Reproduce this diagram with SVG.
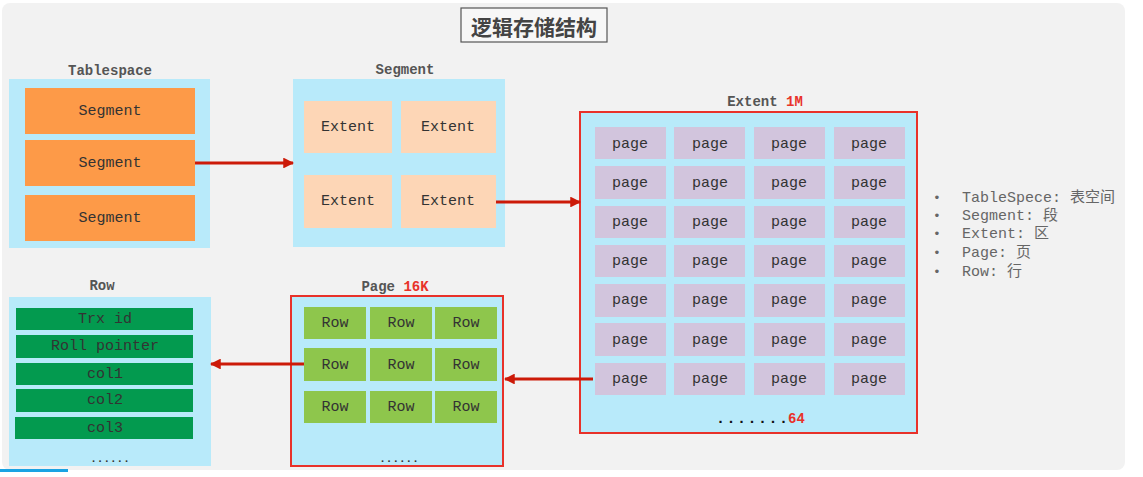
<svg xmlns="http://www.w3.org/2000/svg" width="1143" height="477" viewBox="0 0 1143 477">
<defs>
<style>
.panel{fill:#f2f2f2}
.cont{fill:#b8eafa}
.red{stroke:#e8322a;stroke-width:2}
.seg{fill:#fd9a48}
.ext{fill:#fdd6b6}
.pg{fill:#d2c5dd}
.row{fill:#8ec64c}
.col{fill:#039a4f}
.t{font-family:"Liberation Mono",monospace;font-size:15px;fill:#333;text-anchor:middle;dominant-baseline:central}
.lbl{font-family:"Liberation Mono",monospace;font-size:14px;font-weight:bold;fill:#555;text-anchor:middle}
.rd{fill:#e8322a;font-weight:bold}
.leg{font-family:"Liberation Mono","Noto Sans CJK SC",monospace;font-size:15px;fill:#666}
.conn{stroke:#cc1a08;stroke-width:3;fill:none;marker-end:url(#ah)}
</style>
<marker id="ah" viewBox="0 0 10 10" refX="9" refY="5" markerWidth="3.6" markerHeight="3.6" orient="auto" markerUnits="strokeWidth">
<path d="M0,0 L10,5 L0,10 z" fill="#cc1a08"/>
</marker>
</defs>
<rect x="0" y="0" width="1143" height="477" fill="#ffffff"/>
<rect class="panel" x="2" y="3" width="1123" height="467" rx="8"/>

<g id="title">
<rect x="461" y="8" width="146" height="34" fill="#f7f7f7" stroke="#555" stroke-width="1.2"/>
<text x="534" y="26" font-family="'Noto Sans CJK SC',sans-serif" font-size="21" font-weight="bold" fill="#444" text-anchor="middle" dominant-baseline="central">逻辑存储结构</text>
</g>

<g id="tablespace">
<text class="lbl" x="110" y="75">Tablespace</text>
<rect class="cont" x="9" y="79" width="201" height="169"/>
<rect class="seg" x="25" y="88" width="170" height="46"/>
<text class="t" x="110" y="111">Segment</text>
<rect class="seg" x="25" y="140" width="170" height="46"/>
<text class="t" x="110" y="163">Segment</text>
<rect class="seg" x="25" y="195" width="170" height="46"/>
<text class="t" x="110" y="218">Segment</text>
</g>

<g id="segment">
<text class="lbl" x="405" y="74">Segment</text>
<rect class="cont" x="293" y="79" width="212" height="168"/>
<rect class="ext" x="304" y="101" width="88" height="52"/>
<text class="t" x="348" y="127">Extent</text>
<rect class="ext" x="401" y="101" width="95" height="52"/>
<text class="t" x="448" y="127">Extent</text>
<rect class="ext" x="304" y="175" width="88" height="53"/>
<text class="t" x="348" y="201">Extent</text>
<rect class="ext" x="401" y="175" width="95" height="53"/>
<text class="t" x="448" y="201">Extent</text>
</g>

<g id="extent">
<text class="lbl" x="765" y="106">Extent <tspan class="rd">1M</tspan></text>
<rect class="cont red" x="580" y="112" width="337" height="321"/>
<g id="pages">
<rect class="pg" x="595" y="127" width="71" height="32"/><rect class="pg" x="674" y="127" width="71" height="32"/><rect class="pg" x="754" y="127" width="71" height="32"/><rect class="pg" x="834" y="127" width="71" height="32"/>
<rect class="pg" x="595" y="166" width="71" height="33"/><rect class="pg" x="674" y="166" width="71" height="33"/><rect class="pg" x="754" y="166" width="71" height="33"/><rect class="pg" x="834" y="166" width="71" height="33"/>
<rect class="pg" x="595" y="206" width="71" height="32"/><rect class="pg" x="674" y="206" width="71" height="32"/><rect class="pg" x="754" y="206" width="71" height="32"/><rect class="pg" x="834" y="206" width="71" height="32"/>
<rect class="pg" x="595" y="245" width="71" height="32"/><rect class="pg" x="674" y="245" width="71" height="32"/><rect class="pg" x="754" y="245" width="71" height="32"/><rect class="pg" x="834" y="245" width="71" height="32"/>
<rect class="pg" x="595" y="284" width="71" height="33"/><rect class="pg" x="674" y="284" width="71" height="33"/><rect class="pg" x="754" y="284" width="71" height="33"/><rect class="pg" x="834" y="284" width="71" height="33"/>
<rect class="pg" x="595" y="323" width="71" height="33"/><rect class="pg" x="674" y="323" width="71" height="33"/><rect class="pg" x="754" y="323" width="71" height="33"/><rect class="pg" x="834" y="323" width="71" height="33"/>
<rect class="pg" x="595" y="363" width="71" height="32"/><rect class="pg" x="674" y="363" width="71" height="32"/><rect class="pg" x="754" y="363" width="71" height="32"/><rect class="pg" x="834" y="363" width="71" height="32"/>
</g>
<g>
<text class="t" x="630" y="144">page</text><text class="t" x="710" y="144">page</text><text class="t" x="789" y="144">page</text><text class="t" x="869" y="144">page</text>
<text class="t" x="630" y="183">page</text><text class="t" x="710" y="183">page</text><text class="t" x="789" y="183">page</text><text class="t" x="869" y="183">page</text>
<text class="t" x="630" y="222">page</text><text class="t" x="710" y="222">page</text><text class="t" x="789" y="222">page</text><text class="t" x="869" y="222">page</text>
<text class="t" x="630" y="261">page</text><text class="t" x="710" y="261">page</text><text class="t" x="789" y="261">page</text><text class="t" x="869" y="261">page</text>
<text class="t" x="630" y="300">page</text><text class="t" x="710" y="300">page</text><text class="t" x="789" y="300">page</text><text class="t" x="869" y="300">page</text>
<text class="t" x="630" y="340">page</text><text class="t" x="710" y="340">page</text><text class="t" x="789" y="340">page</text><text class="t" x="869" y="340">page</text>
<text class="t" x="630" y="379">page</text><text class="t" x="710" y="379">page</text><text class="t" x="789" y="379">page</text><text class="t" x="869" y="379">page</text>
</g>
<text x="716" y="423" font-family="'Liberation Mono',monospace" font-size="15" font-weight="bold" fill="#111" letter-spacing="1.5">.......</text>
<text x="788" y="423" font-family="'Liberation Mono',monospace" font-size="14" font-weight="bold" fill="#e8322a">64</text>
</g>

<g id="page">
<text class="lbl" x="395" y="291">Page <tspan class="rd">16K</tspan></text>
<rect class="cont red" x="291" y="296" width="212" height="170"/>
<rect class="row" x="304" y="307" width="62" height="32"/><rect class="row" x="370" y="307" width="62" height="32"/><rect class="row" x="435" y="307" width="62" height="32"/>
<rect class="row" x="304" y="348" width="62" height="33"/><rect class="row" x="370" y="348" width="62" height="33"/><rect class="row" x="435" y="348" width="62" height="33"/>
<rect class="row" x="304" y="391" width="62" height="32"/><rect class="row" x="370" y="391" width="62" height="32"/><rect class="row" x="435" y="391" width="62" height="32"/>
<text class="t" x="335" y="323">Row</text><text class="t" x="401" y="323">Row</text><text class="t" x="466" y="323">Row</text>
<text class="t" x="335" y="365">Row</text><text class="t" x="401" y="365">Row</text><text class="t" x="466" y="365">Row</text>
<text class="t" x="335" y="407">Row</text><text class="t" x="401" y="407">Row</text><text class="t" x="466" y="407">Row</text>
<text x="399" y="462" font-family="'Liberation Mono',monospace" font-size="11" font-weight="bold" fill="#333" text-anchor="middle">......</text>
</g>

<g id="row">
<text class="lbl" x="102" y="290">Row</text>
<rect class="cont" x="9" y="297" width="202" height="169"/>
<rect class="col" x="16" y="308" width="177" height="22"/>
<rect class="col" x="16" y="335" width="177" height="23"/>
<rect class="col" x="16" y="363" width="177" height="22"/>
<rect class="col" x="16" y="389" width="177" height="23"/>
<rect class="col" x="15" y="417" width="178" height="22"/>
<text class="t" x="105" y="319">Trx id</text>
<text class="t" x="105" y="346">Roll pointer</text>
<text class="t" x="105" y="374">col1</text>
<text class="t" x="105" y="400">col2</text>
<text class="t" x="105" y="428">col3</text>
<text x="110" y="462" font-family="'Liberation Mono',monospace" font-size="11" font-weight="bold" fill="#333" text-anchor="middle">......</text>
</g>

<g id="connectors">
<line class="conn" x1="195" y1="163" x2="293" y2="163"/>
<line class="conn" x1="496" y1="202" x2="580" y2="202"/>
<line class="conn" x1="593" y1="379" x2="505" y2="379"/>
<line class="conn" x1="304" y1="364" x2="211" y2="364"/>
</g>

<g id="legend" class="leg">
<text x="933" y="202" font-size="13">•</text><text x="962" y="202">TableSpece: 表空间</text>
<text x="933" y="220" font-size="13">•</text><text x="962" y="220">Segment: 段</text>
<text x="933" y="238" font-size="13">•</text><text x="962" y="238">Extent: 区</text>
<text x="933" y="257" font-size="13">•</text><text x="962" y="257">Page: 页</text>
<text x="933" y="276" font-size="13">•</text><text x="962" y="276">Row: 行</text>
</g>
<rect x="0" y="469" width="68" height="3" fill="#1aa3e3"/>
</svg>
